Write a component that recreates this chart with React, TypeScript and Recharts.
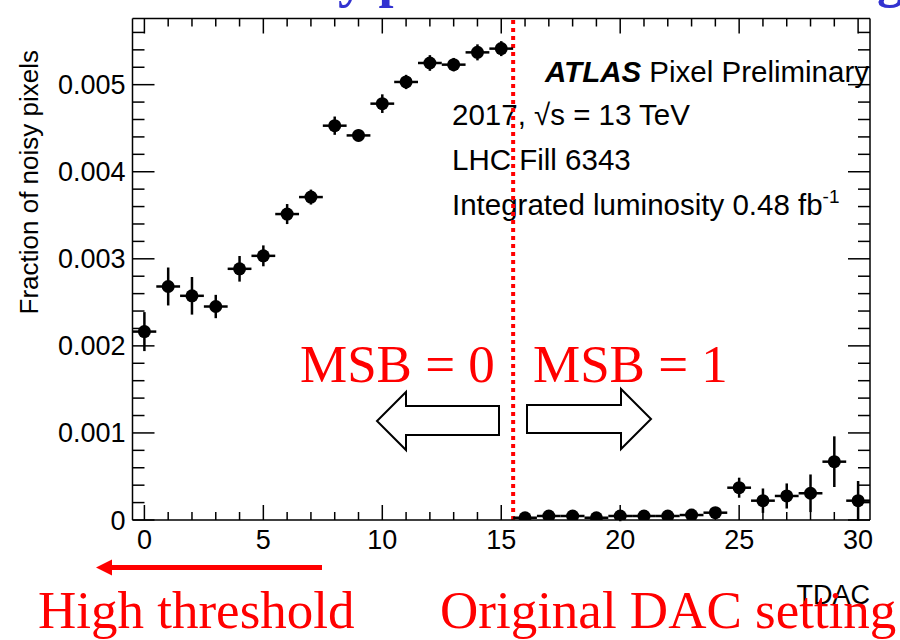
import React from 'react';
import { ScatterChart, Scatter, XAxis, YAxis, ErrorBar, ReferenceLine } from 'recharts';

// ---- data ----
const tdac = [0, 1, 2, 3, 4, 5, 6, 7, 8, 9, 10, 11, 12, 13, 14, 15, 16, 17, 18, 19, 20, 21, 22, 23, 24, 25, 26, 27, 28, 29, 30];
const noisyFraction = [
  0.002164, 0.002682, 0.002575, 0.002452, 0.002885, 0.003034, 0.003514, 0.003709,
  0.004529, 0.004417, 0.004782, 0.005031, 0.005249, 0.00523, 0.005371, 0.005414,
  0.000026, 0.000046, 0.000046, 0.000026, 0.000046, 0.000046, 0.000046, 0.000057,
  0.000084, 0.000371, 0.000222, 0.000276, 0.000307, 0.00067, 0.000222,
];
const noisyError = [
  0.000224, 0.000218, 0.000216, 0.000134, 0.000147, 0.00012, 0.000115, 0.000086,
  0.000105, 0.000067, 0.000107, 0.000082, 0.00009, 0.000077, 0.000092, 0.000086,
  0.00002, 0.00002, 0.00002, 0.00002, 0.00006, 0.00002, 0.00002, 0.00003,
  0.00004, 0.000115, 0.00014, 0.000144, 0.000216, 0.000291, 0.000226,
];
const binHalfWidth = 0.5;

const xMajorTicks = [0, 5, 10, 15, 20, 25, 30];
const xAllTicks = [0, 1, 2, 3, 4, 5, 6, 7, 8, 9, 10, 11, 12, 13, 14, 15, 16, 17, 18, 19, 20, 21, 22, 23, 24, 25, 26, 27, 28, 29, 30];
const yMajorTicks = [0, 0.001, 0.002, 0.003, 0.004, 0.005];
const yAllTicks = [
  0, 0.0002, 0.0004, 0.0006, 0.0008, 0.001, 0.0012, 0.0014, 0.0016, 0.0018,
  0.002, 0.0022, 0.0024, 0.0026, 0.0028, 0.003, 0.0032, 0.0034, 0.0036, 0.0038,
  0.004, 0.0042, 0.0044, 0.0046, 0.0048, 0.005, 0.0052, 0.0054, 0.0056,
];
const yLabels = ['0', '0.001', '0.002', '0.003', '0.004', '0.005'];
const msbBoundary = 15.5;

const data = tdac.map((t, i) => ({ tdac: t, frac: noisyFraction[i], err: noisyError[i], xerr: binHalfWidth }));

const SANS = '"Liberation Sans", Arial, Helvetica, sans-serif';
const SERIF = '"Liberation Serif", "Times New Roman", Times, serif';

const isMajorX = (v: number) => xMajorTicks.includes(v);
const majorYIndex = (v: number) => yMajorTicks.findIndex((m) => Math.abs(m - v) < 1e-9);

const BottomTick = (props: any) => {
  const { x, y, payload } = props;
  const v = payload.value;
  const major = isMajorX(v);
  return (
    <g>
      <line x1={x} x2={x} y1={y} y2={y - (major ? 15 : 8)} stroke="#000" strokeWidth={1.5} />
      {major && (
        <text x={x} y={y + 29} textAnchor="middle" fontSize={27} fontFamily={SANS} fill="#000">
          {v}
        </text>
      )}
    </g>
  );
};

const TopTick = (props: any) => {
  const { x, y, payload } = props;
  const major = isMajorX(payload.value);
  return <line x1={x} x2={x} y1={y} y2={y + (major ? 15 : 8)} stroke="#000" strokeWidth={1.5} />;
};

const LeftTick = (props: any) => {
  const { x, y, payload } = props;
  const idx = majorYIndex(payload.value);
  const major = idx >= 0;
  return (
    <g>
      <line x1={x} x2={x + (major ? 22 : 12)} y1={y} y2={y} stroke="#000" strokeWidth={1.5} />
      {major && (
        <text x={x - 7} y={y + 9.5} textAnchor="end" fontSize={27} fontFamily={SANS} fill="#000">
          {yLabels[idx]}
        </text>
      )}
    </g>
  );
};

const RightTick = (props: any) => {
  const { x, y, payload } = props;
  const major = majorYIndex(payload.value) >= 0;
  return <line x1={x} x2={x - (major ? 22 : 12)} y1={y} y2={y} stroke="#000" strokeWidth={1.5} />;
};

const Dot = (props: any) => <circle cx={props.cx} cy={props.cy} r={6.5} fill="#000" />;

const axisLine = { stroke: '#000', strokeWidth: 1.5 };

export default function App() {
  return (
    <div style={{ position: 'absolute', left: 0, top: 0, width: 900, height: 640, background: '#fff', overflow: 'hidden' }}>
      <svg width={900} height={640} style={{ position: 'absolute', left: 0, top: 0 }}>
        {/* cut-off slide title */}
        <text x={236} y={-4} fontSize={54} fontWeight="bold" fontFamily={SERIF} fill="#3232d0">
          Noisy pixels vs TDAC setting
        </text>
        {/* y axis title */}
        <text transform="translate(38,50) rotate(-90)" textAnchor="end" fontSize={26} fontFamily={SANS} fill="#000">
          Fraction of noisy pixels
        </text>
        {/* x axis title */}
        <text x={870} y={604} textAnchor="end" fontSize={27} fontFamily={SANS} fill="#000">
          TDAC
        </text>
        {/* ATLAS label */}
        <text x={545} y={82} fontSize={29.5} fontFamily={SANS} fill="#000">
          <tspan fontWeight="bold" fontStyle="italic">ATLAS</tspan>
          <tspan> Pixel Preliminary</tspan>
        </text>
        <text x={452} y={125} fontSize={29.5} fontFamily={SANS} fill="#000">
          2017, √s = 13 TeV
        </text>
        <text x={452} y={170} fontSize={29.5} fontFamily={SANS} fill="#000">
          LHC Fill 6343
        </text>
        <text x={452} y={215} fontSize={29.5} fontFamily={SANS} fill="#000">
          Integrated luminosity 0.48 fb
          <tspan fontSize={19} dy={-12}>-1</tspan>
        </text>
        {/* MSB labels */}
        <text x={300} y={382} fontSize={53} fontFamily={SERIF} fill="#ff0000">
          MSB = 0
        </text>
        <text x={533} y={382} fontSize={53} fontFamily={SERIF} fill="#ff0000">
          MSB = 1
        </text>
        {/* hollow arrows */}
        <polygon
          points="499,406 406,406 406,392 377,421 406,450 406,435 499,435"
          fill="#fff"
          stroke="#000"
          strokeWidth={2}
        />
        <polygon
          points="527,405 621,405 621,389 651,419 621,449 621,433 527,433"
          fill="#fff"
          stroke="#000"
          strokeWidth={2}
        />
        {/* red arrow */}
        <line x1={322} y1={567.5} x2={110} y2={567.5} stroke="#ff0000" strokeWidth={5} />
        <polygon points="96,567.5 112,559.5 112,575.5" fill="#ff0000" />
        <text x={38} y={628} fontSize={53} fontFamily={SERIF} fill="#ff0000">
          High threshold
        </text>
        <text x={440} y={628} fontSize={53} fontFamily={SERIF} fill="#ff0000">
          Original DAC setting
        </text>
      </svg>
      <div style={{ position: 'absolute', left: 0, top: 0 }}>
        <ScatterChart width={900} height={640} margin={{ top: 17.5, right: 29, bottom: 119, left: 131.5 }}>
          <XAxis
            xAxisId="b"
            dataKey="tdac"
            type="number"
            domain={[-0.5, 30.5]}
            allowDataOverflow
            ticks={xAllTicks}
            interval={0}
            height={1}
            tickSize={0}
            tickMargin={0}
            tickLine={false}
            tick={<BottomTick />}
            axisLine={axisLine}
          />
          <XAxis
            xAxisId="t"
            orientation="top"
            dataKey="tdac"
            type="number"
            domain={[-0.5, 30.5]}
            allowDataOverflow
            ticks={xAllTicks}
            interval={0}
            height={1}
            tickSize={0}
            tickMargin={0}
            tickLine={false}
            tick={<TopTick />}
            axisLine={axisLine}
          />
          <YAxis
            yAxisId="l"
            dataKey="frac"
            type="number"
            domain={[0, 0.00576]}
            allowDataOverflow
            ticks={yAllTicks}
            interval={0}
            width={1}
            tickSize={0}
            tickMargin={0}
            tickLine={false}
            tick={<LeftTick />}
            axisLine={axisLine}
          />
          <YAxis
            yAxisId="r"
            orientation="right"
            dataKey="frac"
            type="number"
            domain={[0, 0.00576]}
            allowDataOverflow
            ticks={yAllTicks}
            interval={0}
            width={1}
            tickSize={0}
            tickMargin={0}
            tickLine={false}
            tick={<RightTick />}
            axisLine={axisLine}
          />
          <ReferenceLine
            xAxisId="b"
            yAxisId="l"
            x={msbBoundary}
            stroke="#ff0000"
            strokeWidth={4}
            strokeDasharray="4 4"
          />
          <Scatter xAxisId="b" yAxisId="l" data={data} dataKey="frac" isAnimationActive={false} shape={<Dot />}>
            <ErrorBar dataKey="err" direction="y" width={0} stroke="#000" strokeWidth={2.5} isAnimationActive={false} />
            <ErrorBar dataKey="xerr" direction="x" width={0} stroke="#000" strokeWidth={2.5} isAnimationActive={false} />
          </Scatter>
        </ScatterChart>
      </div>
    </div>
  );
}
